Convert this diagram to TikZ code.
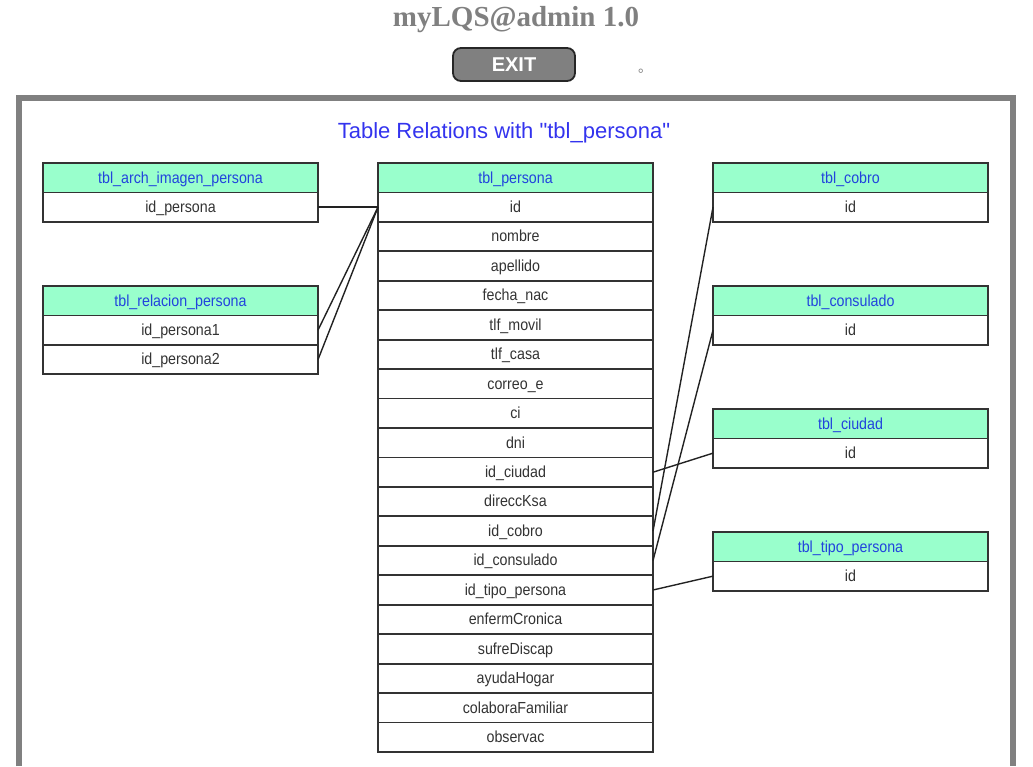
\documentclass[tikz,border=0pt]{standalone}
\usepackage{fontspec}
\setmainfont{Liberation Serif}
\newfontfamily\cellfont[FakeStretch=0.89]{Liberation Sans}
\newfontfamily\headfont{Liberation Sans}
\newfontfamily\cjk{Noto Sans CJK SC}
\usepackage{tikz}
\usetikzlibrary{positioning}
\definecolor{frame}{HTML}{808080}
\definecolor{grid}{HTML}{333333}
\definecolor{hdrfill}{HTML}{99FFCC}
\definecolor{hdrtext}{HTML}{2244DD}
\definecolor{celltext}{HTML}{333333}
\definecolor{titleblue}{HTML}{3333EE}
\definecolor{link}{HTML}{222222}

\begin{document}
\begin{tikzpicture}[
  x=1pt, y=-1pt,
  cell/.style={
    rectangle, draw=grid, line width=1.8pt, text=celltext,
    minimum width=275pt, minimum height=29.45pt, inner sep=0pt, outer sep=0pt,
    text height=12.8pt, text depth=2.2pt, font=\cellfont\fontsize{16}{18}\selectfont
  },
  hdr/.style={cell, fill=hdrfill, text=hdrtext},
  exitbtn/.style={
    rectangle, rounded corners=8pt, draw=black!85, line width=1.8pt, fill=frame,
    minimum width=122pt, minimum height=33pt, text=white,
    font=\headfont\bfseries\fontsize{20}{22}\selectfont
  },
  rel/.style={draw=link, line width=1.4pt},
]
\useasboundingbox (0,0) rectangle (1033,766);
\draw[frame, line width=6pt] (18.5,766) -- (18.5,98) -- (1012.8,98) -- (1012.8,766);

\node[anchor=base, text=frame, font=\bfseries\fontsize{29}{32}\selectfont] (apptitle) at (516,26) {myLQS@admin 1.0};
\node[exitbtn] (exit) at (514,64.5) {EXIT};
\node[anchor=base west, inner sep=0pt, text=frame, font=\cjk\fontsize{14}{14}\selectfont] (dot) at (638,72) {。};
\node[anchor=base, text=titleblue, font=\headfont\fontsize{22}{24}\selectfont] (reltitle) at (504,138.5) {Table Relations with "tbl\_persona"};

\node[hdr] (arch) at (180.5,177.7) {tbl\_arch\_imagen\_persona};
\node[cell, below=0pt of arch] (arch-idp) {id\_persona};

\node[hdr] (relp) at (180.5,300.7) {tbl\_relacion\_persona};
\node[cell, below=0pt of relp] (relp-p1) {id\_persona1};
\node[cell, below=0pt of relp-p1] (relp-p2) {id\_persona2};

\node[hdr] (per) at (515.5,177.7) {tbl\_persona};
\node[cell, below=0pt of per] (per-id) {id};
\node[cell, below=0pt of per-id] (per-nombre) {nombre};
\node[cell, below=0pt of per-nombre] (per-apellido) {apellido};
\node[cell, below=0pt of per-apellido] (per-fnac) {fecha\_nac};
\node[cell, below=0pt of per-fnac] (per-movil) {tlf\_movil};
\node[cell, below=0pt of per-movil] (per-casa) {tlf\_casa};
\node[cell, below=0pt of per-casa] (per-correo) {correo\_e};
\node[cell, below=0pt of per-correo] (per-ci) {ci};
\node[cell, below=0pt of per-ci] (per-dni) {dni};
\node[cell, below=0pt of per-dni] (per-ciudad) {id\_ciudad};
\node[cell, below=0pt of per-ciudad] (per-direcc) {direccKsa};
\node[cell, below=0pt of per-direcc] (per-cobro) {id\_cobro};
\node[cell, below=0pt of per-cobro] (per-consulado) {id\_consulado};
\node[cell, below=0pt of per-consulado] (per-tipo) {id\_tipo\_persona};
\node[cell, below=0pt of per-tipo] (per-enferm) {enfermCronica};
\node[cell, below=0pt of per-enferm] (per-discap) {sufreDiscap};
\node[cell, below=0pt of per-discap] (per-hogar) {ayudaHogar};
\node[cell, below=0pt of per-hogar] (per-colab) {colaboraFamiliar};
\node[cell, below=0pt of per-colab] (per-obs) {observac};

\node[hdr] (cobro) at (850.5,177.7) {tbl\_cobro};
\node[cell, below=0pt of cobro] (cobro-id) {id};
\node[hdr] (consulado) at (850.5,300.7) {tbl\_consulado};
\node[cell, below=0pt of consulado] (consulado-id) {id};
\node[hdr] (ciudad) at (850.5,423.7) {tbl\_ciudad};
\node[cell, below=0pt of ciudad] (ciudad-id) {id};
\node[hdr] (tipo) at (850.5,546.7) {tbl\_tipo\_persona};
\node[cell, below=0pt of tipo] (tipo-id) {id};

\draw[rel] (arch-idp.east) -- (per-id.west);
\draw[rel] (relp-p1.east)  -- (per-id.west);
\draw[rel] (relp-p2.east)  -- (per-id.west);
\draw[rel] (per-ciudad.east)    -- (ciudad-id.west);
\draw[rel] (per-cobro.east)     -- (cobro-id.west);
\draw[rel] (per-consulado.east) -- (consulado-id.west);
\draw[rel] (per-tipo.east)      -- (tipo-id.west);
\end{tikzpicture}
\end{document}
